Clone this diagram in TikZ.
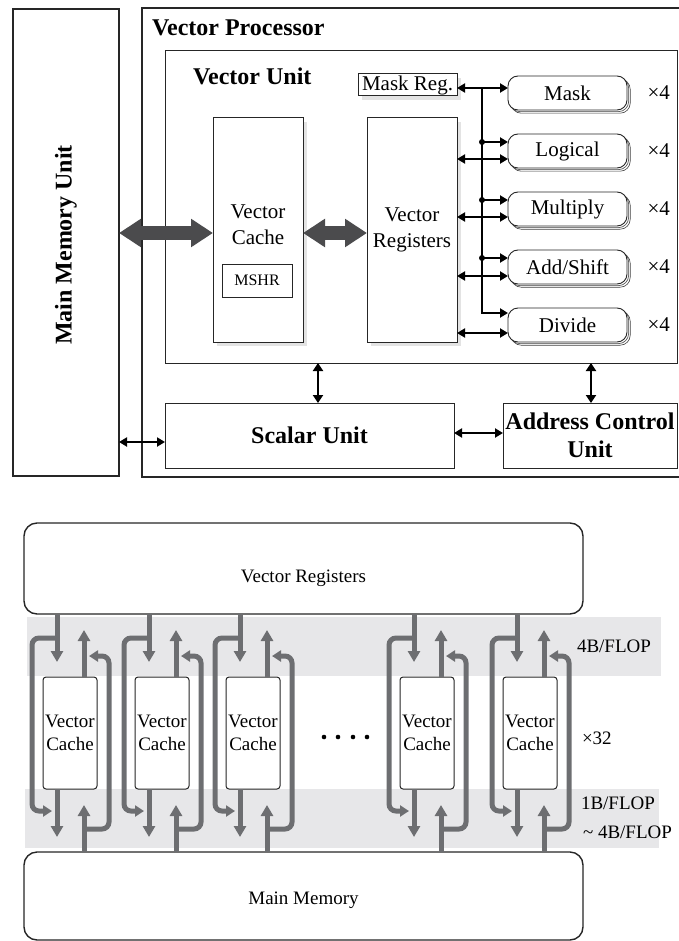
\documentclass[tikz,border=0pt]{standalone}
\usepackage{fontspec}
\setmainfont{Liberation Serif}
\usetikzlibrary{arrows.meta,calc,shadows}
\definecolor{darkarr}{HTML}{4B4B4D}
\definecolor{grayarr}{HTML}{6D6E71}
\definecolor{band}{HTML}{E7E7E9}
\begin{document}
\begin{tikzpicture}[x=1pt,y=-1pt,
  every node/.style={inner sep=0pt, outer sep=0pt},
  outerbox/.style={draw=black!85, line width=2.5pt},
  ibox/.style={draw=black!85, line width=1pt, fill=white},
  bt/.style={font=\fontsize{24}{28}\selectfont\bfseries, align=center},
  rt/.style={font=\fontsize{21}{26}\selectfont, align=center},
  st/.style={font=\fontsize{19}{23}\selectfont, align=center},
  shad/.style={drop shadow={opacity=0.22, shadow xshift=4pt, shadow yshift=-4pt}},
  unitbox/.style={draw=black!85, line width=0.9pt, fill=white, rounded corners=10pt,
     minimum width=119pt, minimum height=34pt, rt,
     double copy shadow={shadow xshift=1.6pt, shadow yshift=-1.6pt, draw=black!75, line width=0.6pt}},
  bigarr/.style={line width=13pt, draw=darkarr, {Triangle[length=22pt,width=27pt]}-{Triangle[length=22pt,width=27pt]}},
  busarr/.style={line width=2pt, -{Triangle[length=8pt,width=9pt]}},
  dbl/.style={line width=2pt, {Triangle[length=8pt,width=9pt]}-{Triangle[length=8pt,width=9pt]}},
  dblv/.style={line width=2.5pt, {Triangle[length=8pt,width=10pt]}-{Triangle[length=8pt,width=10pt]}},
  garr/.style={line width=5pt, draw=grayarr, -{Triangle[length=11pt,width=12pt]}},
  gloop/.style={line width=5pt, draw=grayarr, rounded corners=7pt, -{Triangle[length=9pt,width=11pt]}},
  rbox/.style={draw=black!85, line width=1.4pt, rounded corners=13pt, fill=white},
  cachebox/.style={draw=black!85, line width=1pt, rounded corners=3pt, fill=white,
     minimum width=54pt, minimum height=112pt, st},
]
\useasboundingbox (0,0) rectangle (679,941);

% ---------------- top diagram ----------------
\node[outerbox, minimum width=106pt, minimum height=467pt] (mmu) at (66,242.5) {};
\node[bt, rotate=90] (mmut) at (66,245) {Main Memory Unit};
\node[minimum width=580pt, minimum height=469pt] (vp) at (432,242.5) {};
\draw[outerbox] (vp.north east) -- (vp.north west) -- (vp.south west) -- (vp.south east);
\node[bt, anchor=west] (vpt) at (152,28) {Vector Processor};
\node[ibox, minimum width=512pt, minimum height=312pt] (vu) at (421,207) {};
\node[bt, anchor=west] (vut) at (193,76) {Vector Unit};

\node[ibox, shad, minimum width=90pt, minimum height=224pt] (vc) at (258,230) {};
\node[rt] (vct) at (258,225) {Vector\\Cache};
\node[ibox, minimum width=70pt, minimum height=33pt, font=\fontsize{16}{18}\selectfont] (mshr) at (257,280.5) {MSHR};
\node[ibox, shad, minimum width=90pt, minimum height=224pt, rt] (vr) at (412,230) {Vector\\Registers};
\node[ibox, shad, minimum width=99pt, minimum height=22pt, rt] (mreg) at (407.5,85) {Mask Reg.};

\node[unitbox] (mask) at (567.5,93) {Mask};
\node[unitbox] (logi) at (567.5,151) {Logical};
\node[unitbox] (mult) at (567.5,209) {Multiply};
\node[unitbox] (adds) at (567.5,267) {Add/Shift};
\node[unitbox] (divi) at (567.5,325) {Divide};
\foreach \n in {mask,logi,mult,adds,divi}
  \node[rt, anchor=west] (x\n) at ($(\n.center)+(80,0)$) {×4};

\node[ibox, minimum width=289pt, minimum height=65pt, bt] (sc) at (309.5,435.5) {Scalar Unit};
\node[ibox, minimum width=174pt, minimum height=65pt, bt] (acu) at (590,435.5) {Address Control\\Unit};

% big arrows
\coordinate (ya) at (0,233);
\draw[bigarr] (mmu.east |- ya) -- (vc.west |- ya);
\draw[bigarr] (vc.east |- ya) -- (vr.west |- ya);

% bus
\coordinate (ym) at (0,88);
\coordinate (bt) at (482,88);
\coordinate (bb) at (482,313);
\draw[dbl] (mreg.east |- ym) -- (mask.west |- ym);
\draw[busarr] (bt) |- (divi.west |- bb);
\foreach \n/\a/\b in {logi/142/159, mult/200/217, adds/258/276} {
  \node[circle, fill=black, minimum size=6pt] (dot\n) at (482,\a) {};
  \draw[busarr] (dot\n.center) -- (\n.west |- dot\n.center);
  \coordinate (r\n) at (0,\b);
  \draw[dbl] (vr.east |- r\n) -- (\n.west |- r\n);
}
\coordinate (rdivi) at (0,333);
\draw[dbl] (vr.east |- rdivi) -- (divi.west |- rdivi);

% vertical and horizontal connectors
\coordinate (xa) at (318,0);
\coordinate (xb) at (591,0);
\draw[dblv] (xa |- vu.south) -- (xa |- sc.north);
\draw[dblv] (xb |- vu.south) -- (xb |- acu.north);
\coordinate (yh1) at (0,442);
\coordinate (yh2) at (0,433);
\draw[dbl] (mmu.east |- yh1) -- (sc.west |- yh1);
\draw[dbl] (sc.east |- yh2) -- (acu.west |- yh2);

% ---------------- bottom diagram ----------------
\fill[band] (27,617) rectangle (661,676);
\fill[band] (25,789) rectangle (659,848);
\node[rbox, minimum width=559pt, minimum height=91pt] (vrB) at (303.5,568.5) {};
\node[st] (vrBt) at (303.5,578) {Vector Registers};
\node[rbox, minimum width=559pt, minimum height=88pt] (mmB) at (303.5,896) {};
\node[st] (mmBt) at (303.5,900) {Main Memory};

\foreach \i/\L in {1/43,2/135,3/226,4/400,5/503} {
  \node[cachebox] (c\i) at (\L+27,733) {Vector\\Cache};
  \coordinate (d\i) at (\L+14,0);
  \coordinate (u\i) at (\L+41,0);
  \draw[garr] (d\i |- vrB.south) -- ($(d\i |- c\i.north)+(0,-15)$);
  \draw[garr] (u\i |- c\i.north) -- ($(u\i |- vrB.south)+(0,16)$);
  \draw[garr] (d\i |- c\i.south) -- ($(d\i |- c\i.south)+(0,48)$);
  \draw[garr] (u\i |- mmB.north) -- ($(u\i |- c\i.south)+(0,16)$);
  \coordinate (la\i) at (\L+14,638);
  \coordinate (ra\i) at (\L+41,829);
  \draw[gloop] (la\i) -- (\L-11,638) -- (\L-11,811) -- (\L+9,811);
  \draw[gloop] (ra\i) -- (\L+66,829) -- (\L+66,656) -- (\L+46,656);
}
\foreach \x in {324,338,353,367}
  \node[circle, fill=black, minimum size=4.6pt] (dot\x) at (\x,737) {};

\node[st, anchor=west] (l1) at (577,646) {4B/FLOP};
\node[st, anchor=west] (l2) at (582,738) {×32};
\node[st, anchor=west] (l3) at (581,803) {1B/FLOP};
\node[st, anchor=west] (l4) at (583,832) {\textasciitilde\ 4B/FLOP};
\end{tikzpicture}
\end{document}
